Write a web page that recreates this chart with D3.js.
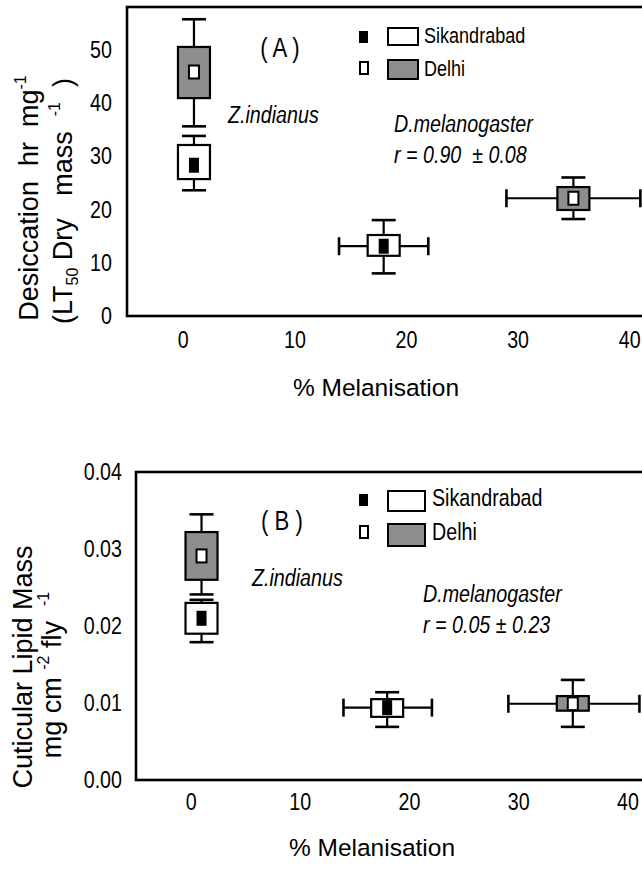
<!DOCTYPE html>
<html><head><meta charset="utf-8">
<script src="https://cdn.jsdelivr.net/npm/d3@7"></script>
<style>
body{margin:0;background:#fff;}
text{white-space:pre;}
</style></head>
<body>
<script>
// ---------- DATA ----------
const xTicks = [0, 10, 20, 30, 40];
const yTicksA = [0, 10, 20, 30, 40, 50];
const yTicksB = [0, 0.01, 0.02, 0.03, 0.04];
const species = ["Z.indianus", "Z.indianus", "D.melanogaster", "D.melanogaster"];
const populations = ["Sikandrabad", "Delhi", "Sikandrabad", "Delhi"];
// % melanisation (x) with horizontal error ranges
const melan = [1, 1, 18, 35];
const melanLo = [null, null, 14.0, 29.0];
const melanHi = [null, null, 22.0, 41.0];
// Panel A: desiccation LT50 (hr mg-1)
const desMean = [28.3, 45.8, 13.1, 22.1];
const desBoxLo = [25.7, 40.9, 11.3, 19.9];
const desBoxHi = [32.1, 50.5, 15.2, 24.2];
const desWhLo = [23.6, 35.6, 8.0, 18.2];
const desWhHi = [33.8, 55.7, 18.0, 26.0];
// Panel B: cuticular lipid mass (mg cm-2 fly-1)
const lipMean = [0.0210, 0.0291, 0.0094, 0.0099];
const lipBoxLo = [0.0190, 0.0260, 0.0082, 0.0090];
const lipBoxHi = [0.0230, 0.0322, 0.0105, 0.0109];
const lipWhLo = [0.0179, 0.0241, 0.0069, 0.0069];
const lipWhHi = [0.0234, 0.0345, 0.0114, 0.0130];
const melanLoB = [null, null, 14.0, 29.1];
const melanHiB = [null, null, 22.1, 41.1];

// ---------- DRAW ----------
const W = 642, H = 869;
const svg = d3.select("body").append("svg").attr("width", W).attr("height", H)
  .style("font-family", "'Liberation Sans', Arial, sans-serif");
const GRAY = "#8e8e8e";
const SX = 0.82; // condensed (Arial Narrow-like) text

function ntext(g, x, y, t, fs, opts = {}) {
  const el = g.append("text").attr("transform", `translate(${x},${y}) scale(${SX},1)`)
    .attr("font-size", fs).text(t);
  if (opts.italic) el.attr("font-style", "italic");
  if (opts.anchor) el.attr("text-anchor", opts.anchor);
  return el;
}

function panel(cfg) {
  const x = d3.scaleLinear().domain([-5, 45]).range(cfg.xr);
  const y = d3.scaleLinear().domain(cfg.yd).range(cfg.yr);
  const g = svg.append("g");

  // frame
  g.append("rect").attr("x", x(-5)).attr("y", y(cfg.yd[1]))
    .attr("width", x(45) - x(-5)).attr("height", y(cfg.yd[0]) - y(cfg.yd[1]))
    .attr("fill", "none").attr("stroke", "#000").attr("stroke-width", 2.6);

  // axes (labels only)
  const ax = g.append("g").attr("transform", `translate(0,${y(cfg.yd[0])})`)
    .call(d3.axisBottom(x).tickValues(xTicks).tickSize(0).tickPadding(cfg.xPad).tickFormat(d3.format("d")));
  const ay = g.append("g").attr("transform", `translate(${x(-5)},0)`)
    .call(d3.axisLeft(y).tickValues(cfg.yTicks).tickSize(0).tickPadding(cfg.yPad).tickFormat(cfg.yFmt));
  [ax, ay].forEach(a => {
    a.select(".domain").remove();
    a.selectAll("text").attr("font-size", 24).attr("fill", "#000")
      .attr("font-family", "'Liberation Sans', Arial, sans-serif")
      .attr("transform", `scale(${SX},1)`);
  });
  ay.selectAll("text").attr("x", -cfg.yPad / SX);

  const n = melan.length;
  for (let i = 0; i < n; i++) {
    const cx = x(melan[i]);
    const cy = y(cfg.mean[i]);
    const lw = 2.2;
    // vertical whisker
    g.append("line").attr("x1", cx).attr("x2", cx).attr("y1", y(cfg.whLo[i])).attr("y2", y(cfg.whHi[i]))
      .attr("stroke", "#000").attr("stroke-width", lw);
    [cfg.whLo[i], cfg.whHi[i]].forEach(v => {
      g.append("line").attr("x1", cx - 12).attr("x2", cx + 12).attr("y1", y(v)).attr("y2", y(v))
        .attr("stroke", "#000").attr("stroke-width", 2.6);
    });
    // horizontal whisker
    if (cfg.xLo[i] != null) {
      g.append("line").attr("x1", x(cfg.xLo[i])).attr("x2", x(cfg.xHi[i])).attr("y1", cy).attr("y2", cy)
        .attr("stroke", "#000").attr("stroke-width", lw);
      [cfg.xLo[i], cfg.xHi[i]].forEach(v => {
        g.append("line").attr("x1", x(v)).attr("x2", x(v)).attr("y1", cy - 9).attr("y2", cy + 9)
          .attr("stroke", "#000").attr("stroke-width", 2.6);
      });
    }
    // box
    const isSik = populations[i] === "Sikandrabad";
    const by0 = y(cfg.boxHi[i]), by1 = y(cfg.boxLo[i]);
    g.append("rect").attr("x", cx - 16).attr("y", by0).attr("width", 32).attr("height", by1 - by0)
      .attr("fill", isSik ? "#fff" : GRAY).attr("stroke", "#000").attr("stroke-width", 2.2);
    // inner marker
    const mh = Math.min(15, by1 - by0);
    if (isSik) {
      g.append("rect").attr("x", cx - 5).attr("y", cy - mh / 2).attr("width", 10).attr("height", mh)
        .attr("fill", "#000");
    } else {
      g.append("rect").attr("x", cx - 5).attr("y", cy - mh / 2 + 1).attr("width", 10).attr("height", mh - 2)
        .attr("fill", "#fff").attr("stroke", "#000").attr("stroke-width", 2);
    }
  }

  // legend
  const L = cfg.leg;
  g.append("rect").attr("x", 359).attr("y", L.y1 - 12).attr("width", 9).attr("height", 12).attr("fill", "#000");
  g.append("rect").attr("x", 388).attr("y", L.y1 - 15).attr("width", L.w).attr("height", L.h)
    .attr("fill", "#fff").attr("stroke", "#000").attr("stroke-width", 2);
  ntext(g, L.tx, L.y1, populations[0], L.fs);
  g.append("rect").attr("x", 360).attr("y", L.y2 - 14).attr("width", 8).attr("height", 12)
    .attr("fill", "#fff").attr("stroke", "#000").attr("stroke-width", 2);
  g.append("rect").attr("x", 388).attr("y", L.y2 - 16).attr("width", L.w).attr("height", L.h + 2)
    .attr("fill", GRAY).attr("stroke", "#000").attr("stroke-width", 2);
  ntext(g, L.tx, L.y2, populations[1], L.fs);

  // annotations
  ntext(g, cfg.lab.x, cfg.lab.y, cfg.lab.t, 27, { anchor: "middle" });
  ntext(g, cfg.zi.x, cfg.zi.y, species[0], 24, { italic: true });
  ntext(g, cfg.dm.x, cfg.dm.y, species[2], 24, { italic: true });
  ntext(g, cfg.dm.x, cfg.dm.y + 31, cfg.rText, 24, { italic: true });

  // x title
  g.append("text").attr("x", cfg.xt.x).attr("y", cfg.xt.y).attr("text-anchor", "middle")
    .attr("font-size", 24.5).text("% Melanisation");

  // y titles
  cfg.yTitle.forEach(line => {
    const t = g.append("text").attr("transform", `translate(${line.x},${line.y}) rotate(-90)`)
      .attr("text-anchor", "middle").attr("font-size", 27);
    line.parts.forEach(p => {
      const ts = t.append("tspan").text(p.t);
      if (p.sup) ts.attr("font-size", 16).attr("dy", -12);
      if (p.sub) ts.attr("font-size", 16).attr("dy", 6);
      if (p.back) ts.attr("dy", p.back);
    });
  });
}

panel({
  xr: [127, 685], yd: [0, 58], yr: [316, 7], yTicks: yTicksA, yFmt: d3.format("d"),
  xPad: 15, yPad: 15,
  mean: desMean, boxLo: desBoxLo, boxHi: desBoxHi, whLo: desWhLo, whHi: desWhHi,
  xLo: melanLo, xHi: melanHi,
  leg: { y1: 43, y2: 76, w: 30, h: 17, tx: 424, fs: 22 },
  lab: { x: 280, y: 57, t: "( A )" },
  zi: { x: 228, y: 123 }, dm: { x: 394, y: 132 }, rText: "r = 0.90  ± 0.08",
  xt: { x: 376, y: 396 },
  yTitle: [
    { x: 38, y: 198, parts: [{ t: "Desiccation  hr  mg" }, { t: "-1", sup: true }] },
    { x: 72, y: 201, parts: [{ t: "(LT" }, { t: "50", sub: true }, { t: " Dry   mass  ", back: -6 }, { t: "-1", sup: true }, { t: "  )", back: 12 }] }
  ]
});

panel({
  xr: [136, 682], yd: [0, 0.04], yr: [780, 472], yTicks: yTicksB, yFmt: d3.format(".2f"),
  xPad: 13, yPad: 14,
  mean: lipMean, boxLo: lipBoxLo, boxHi: lipBoxHi, whLo: lipWhLo, whHi: lipWhHi,
  xLo: melanLoB, xHi: melanHiB,
  leg: { y1: 506, y2: 540, w: 37, h: 20, tx: 432, fs: 24 },
  lab: { x: 282, y: 530, t: "( B )" },
  zi: { x: 252, y: 586 }, dm: { x: 423, y: 602 }, rText: "r = 0.05 ± 0.23",
  xt: { x: 372, y: 856 },
  yTitle: [
    { x: 32, y: 667, parts: [{ t: "Cuticular Lipid Mass" }] },
    { x: 61, y: 675, parts: [{ t: "mg cm " }, { t: "-2", sup: true }, { t: " fly  ", back: 12 }, { t: "-1", sup: true }] }
  ]
});
</script>
</body></html>
